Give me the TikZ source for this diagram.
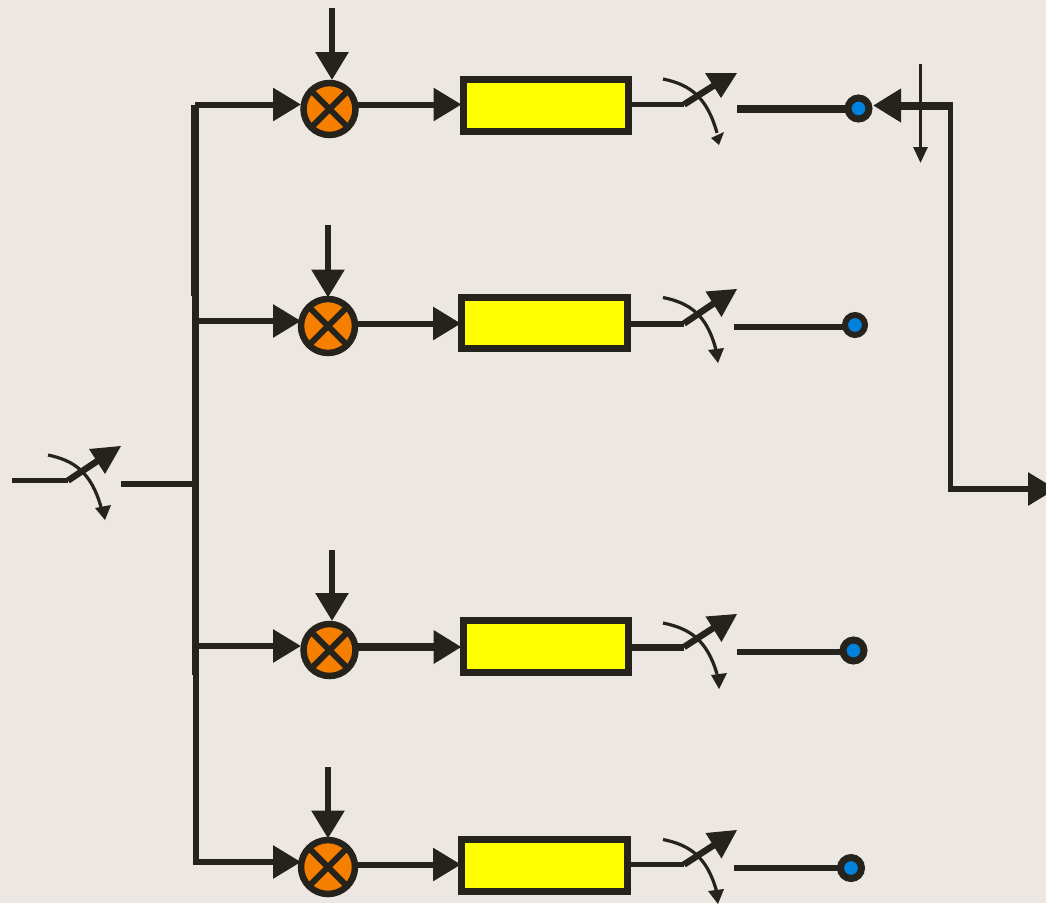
\documentclass[tikz,border=0pt]{standalone}
\usepackage{tikz}
\usetikzlibrary{arrows.meta}

\definecolor{paper}{HTML}{ECE7E3}
\definecolor{ink}{HTML}{26221C}
\definecolor{mixorange}{HTML}{F77F00}
\definecolor{portblue}{HTML}{0082DC}
\definecolor{boxyellow}{RGB}{255,255,0}

\tikzset{
  wire/.style={draw=ink,line width=6pt},
  feed/.style={wire,-{Triangle[length=28pt,width=32pt]}},
  tap/.style={draw=ink,line width=3pt,-{Triangle[length=16pt,width=14pt]}},
  mixer/.style={circle,draw=ink,fill=mixorange,line width=6.5pt,inner sep=0pt,outer sep=0pt},
  crossbar/.style={draw=ink,line width=6pt},
  filterbox/.style={rectangle,draw=ink,fill=boxyellow,line width=7pt,inner sep=0pt,outer sep=0pt},
  port/.style={circle,draw=ink,fill=portblue,line width=7pt,inner sep=0pt,outer sep=0pt,minimum size=21pt},
  lever/.style={draw=ink,line width=6.5pt},
  head/.style={fill=ink},
  sweep/.style={draw=ink,line width=3.2pt}
}

\begin{document}
\begin{tikzpicture}[x=1pt,y=-1pt]
  \useasboundingbox (0,0) rectangle (1046,903);
  \fill[paper] (0,0) rectangle (1046,903);

  % input switch and bus
  \coordinate (sw0a) at (12,480.5);
  \coordinate (sw0b) at (68,480.5);
  \coordinate (sw0c) at (105,456);
  \coordinate (bus0) at (121,484);
  \coordinate (busj) at (195,484);
  \coordinate (bustop) at (195,104.5);
  \coordinate (busa) at (195,296);
  \coordinate (busb) at (195.5,296);
  \coordinate (busc) at (195.5,675);
  \coordinate (busd) at (196,675);
  \coordinate (busbot) at (196,862);
  \coordinate (busend) at (196,865);
  \draw[draw=ink,line width=5.5pt] (sw0a) -- (sw0b);
  \draw[lever] (sw0b) -- (sw0c);
  \fill[head] (89,449) -- (121,446) -- (105,474) -- cycle;
  \draw[sweep] (48,455) .. controls (74,460.5) and (91,472) .. (101,507);
  \fill[head] (95,508) -- (111,505) -- (105,520) -- cycle;
  \draw[wire] (bus0) -- (busj);
  \draw[draw=ink,line width=8pt] (bustop) -- (busa);
  \draw[draw=ink,line width=7pt] (busb) -- (busc);
  \draw[draw=ink,line width=6pt] (busd) -- (busend);

  % branch 1
  \node[mixer,minimum size=52pt] (m1) at (329.5,109) {};
  \draw[crossbar] (m1.north west) -- (m1.south east);
  \draw[crossbar] (m1.north east) -- (m1.south west);
  \node[filterbox,minimum width=165pt,minimum height=52pt] (f1) at (545.5,105.5) {};
  \node[port] (p1) at (858.5,108.5) {};
  \coordinate (ctl1) at (332,8);
  \coordinate (sw1b) at (684,104.5);
  \coordinate (sw1c) at (721,81);
  \coordinate (out1) at (737,109);
  \draw[feed] (ctl1) -- ([yshift=3pt]ctl1 |- m1.north);
  \draw[feed] (bustop) -- ([xshift=-2.5pt]bustop -| m1.west);
  \draw[feed] (m1.east |- sw1b) -- ([xshift=-1.5pt]f1.west |- sw1b);
  \draw[draw=ink,line width=5.5pt] (f1.east |- sw1b) -- (sw1b);
  \draw[lever] (sw1b) -- (sw1c);
  \fill[head] (705,73) -- (737,73) -- (721,98) -- cycle;
  \draw[sweep] (663,79) .. controls (690,84.5) and (707,97) .. (717,133);
  \fill[head] (711,138) -- (724,132) -- (719,145) -- cycle;
  \draw[draw=ink,line width=8pt] (out1) -- (p1.west |- out1);

  % branch 2
  \node[mixer,minimum size=54pt] (m2) at (328,326) {};
  \draw[crossbar] (m2.north west) -- (m2.south east);
  \draw[crossbar] (m2.north east) -- (m2.south west);
  \node[filterbox,minimum width=166pt,minimum height=51pt] (f2) at (544,322.5) {};
  \node[port,line width=6pt,minimum size=20pt] (p2) at (855,325) {};
  \coordinate (ctl2) at (328,225);
  \coordinate (bus2) at (195,321);
  \coordinate (sw2b) at (684,323.5);
  \coordinate (sw2c) at (721,298.5);
  \coordinate (out2) at (734,327);
  \draw[feed] (ctl2) -- ([yshift=1.5pt]ctl2 |- m2.north);
  \draw[feed] (bus2) -- (bus2 -| m2.west);
  \draw[feed] (m2.east |- sw2b) -- (f2.west |- sw2b);
  \draw[wire] (f2.east |- sw2b) -- (sw2b);
  \draw[lever] (sw2b) -- (sw2c);
  \fill[head] (705.5,291.5) -- (737,289) -- (721.5,317) -- cycle;
  \draw[sweep] (663,297.5) .. controls (690,303) and (707,315) .. (716,350);
  \fill[head] (708,350) -- (724,348) -- (718,363) -- cycle;
  \draw[wire] (out2) -- (p2.west |- out2);

  % branch 3
  \node[mixer,minimum size=52pt] (m3) at (329.5,650) {};
  \draw[crossbar] (m3.north west) -- (m3.south east);
  \draw[crossbar] (m3.north east) -- (m3.south west);
  \node[filterbox,minimum width=165pt,minimum height=52pt] (f3) at (545.5,646.5) {};
  \node[port] (p3) at (853.5,650.5) {};
  \coordinate (ctl3) at (332,550);
  \coordinate (bus3) at (195.5,646);
  \coordinate (sw3b) at (684,647);
  \coordinate (sw3c) at (721,623);
  \coordinate (out3) at (737,652);
  \draw[feed] (ctl3) -- ([yshift=3pt]ctl3 |- m3.north);
  \draw[feed] (bus3) -- ([xshift=-2.5pt]bus3 -| m3.west);
  \draw[feed,line width=7.5pt] (m3.east |- sw3b) -- ([xshift=-1.5pt]f3.west |- sw3b);
  \draw[draw=ink,line width=7pt] (f3.east |- sw3b) -- (sw3b);
  \draw[lever] (sw3b) -- (sw3c);
  \fill[head] (705.5,616.5) -- (737,614) -- (721.5,642) -- cycle;
  \draw[sweep] (663,623) .. controls (690,628.5) and (707,640) .. (717,674);
  \fill[head] (711,675) -- (727,673) -- (719,689) -- cycle;
  \draw[wire] (out3) -- (p3.west |- out3);

  % branch 4
  \node[mixer,minimum size=54pt] (m4) at (328,867) {};
  \draw[crossbar] (m4.north west) -- (m4.south east);
  \draw[crossbar] (m4.north east) -- (m4.south west);
  \node[filterbox,minimum width=166pt,minimum height=52pt] (f4) at (544,865) {};
  \node[port] (p4) at (851,868) {};
  \coordinate (ctl4) at (328,767);
  \coordinate (sw4b) at (684,864.5);
  \coordinate (sw4c) at (721,840.5);
  \coordinate (out4) at (734,868);
  \draw[feed] (ctl4) -- ([yshift=1.5pt]ctl4 |- m4.north);
  \draw[feed] (busbot) -- (busbot -| m4.west);
  \draw[feed] (m4.east |- sw4b) -- (f4.west |- sw4b);
  \draw[draw=ink,line width=5pt] (f4.east |- sw4b) -- (sw4b);
  \draw[lever] (sw4b) -- (sw4c);
  \fill[head] (705.5,833) -- (737,830) -- (721.5,858.5) -- cycle;
  \draw[sweep] (663,839.5) .. controls (690,845) and (707,857) .. (716.5,891);
  \fill[head] (708,891) -- (724,889) -- (718,904) -- cycle;
  \draw[wire] (out4) -- (p4.west |- out4);

  % combiner on the right
  \coordinate (sumcorner) at (953,105.5);
  \coordinate (sumtip) at (873,105.5);
  \coordinate (sumtop) at (950.5,102);
  \coordinate (sumbot) at (950.5,489);
  \coordinate (sumleft) at (948,489);
  \coordinate (outend) at (1056,489);
  \coordinate (tapa) at (920.5,64);
  \coordinate (tapb) at (920.5,163);
  \draw[draw=ink,line width=5.5pt] (sumbot) -- (sumtop);
  \draw[feed,line width=8pt] (sumcorner) -- (sumtip);
  \draw[feed] (sumleft) -- (outend);
  \draw[tap] (tapa) -- (tapb);
\end{tikzpicture}
\end{document}
